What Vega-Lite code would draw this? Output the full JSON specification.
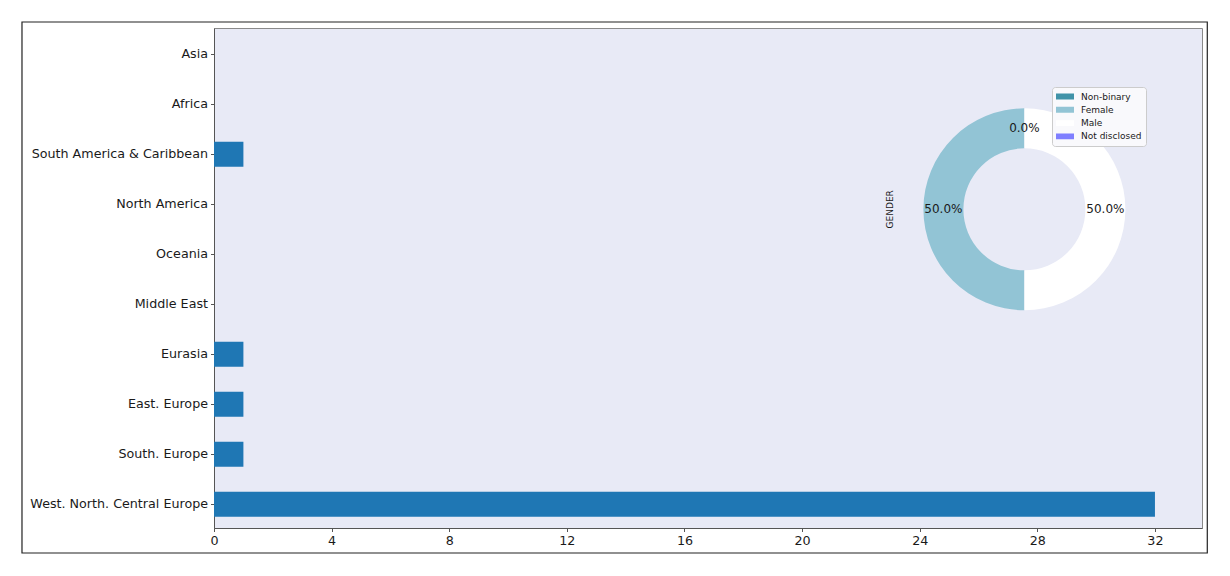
{
  "$schema": "https://vega.github.io/schema/vega-lite/v6.json",
  "width": 988,
  "height": 500,
  "autosize": "none",
  "padding": {"left": 214, "top": 28, "right": 28, "bottom": 48},
  "background": "white",
  "config": {
    "font": "DejaVu Sans",
    "view": {"fill": "#e8eaf6", "stroke": "#8a8a8a", "strokeWidth": 1},
    "axis": {
      "domainColor": "#555555",
      "tickColor": "#555555",
      "tickSize": 3.5,
      "labelColor": "#1a1a1a",
      "labelFontSize": 12.7,
      "grid": false,
      "title": null
    }
  },
  "datasets": {
    "regions": [
      {"region": "Asia", "count": 0},
      {"region": "Africa", "count": 0},
      {"region": "South America & Caribbean", "count": 1},
      {"region": "North America", "count": 0},
      {"region": "Oceania", "count": 0},
      {"region": "Middle East", "count": 0},
      {"region": "Eurasia", "count": 1},
      {"region": "East. Europe", "count": 1},
      {"region": "South. Europe", "count": 1},
      {"region": "West. North. Central Europe", "count": 32}
    ],
    "gender": [
      {"gender": "Non-binary", "share": 0, "rank": 1},
      {"gender": "Female", "share": 0.5, "rank": 2},
      {"gender": "Male", "share": 0.5, "rank": 3},
      {"gender": "Not disclosed", "share": 0, "rank": 4}
    ]
  },
  "layer": [
    {
      "data": {"name": "regions"},
      "mark": {"type": "bar", "color": "#1f77b4"},
      "encoding": {
        "x": {
          "field": "count",
          "type": "quantitative",
          "scale": {"domain": [0, 33.6], "nice": false, "zero": false},
          "axis": {"title": null, "values": [0, 4, 8, 12, 16, 20, 24, 28, 32], "labelPadding": 3, "labelFlush": false}
        },
        "y": {
          "field": "region",
          "type": "nominal",
          "sort": null,
          "scale": {"paddingInner": 0.5, "paddingOuter": 0.25, "align": 0.55},
          "axis": {"labelPadding": 3, "labelLimit": 400, "title": null}
        }
      }
    },
    {
      "description": "outer figure frame",
      "data": {"values": [{}]},
      "mark": {"type": "rect", "filled": false, "stroke": "#222222", "strokeWidth": 1.2, "clip": false},
      "encoding": {
        "x": {"datum": -6.53, "type": "quantitative", "scale": {"domain": [0, 33.6], "nice": false, "zero": false}, "axis": {"title": null, "values": [0, 4, 8, 12, 16, 20, 24, 28, 32], "labelPadding": 3, "labelFlush": false}},
        "x2": {"datum": 33.78},
        "y": {"datum": 1.012, "type": "quantitative", "scale": {"domain": [0, 1], "nice": false, "zero": false}, "axis": null},
        "y2": {"datum": -0.05}
      }
    },
    {
      "data": {"name": "gender"},
      "mark": {"type": "arc", "innerRadius": 61, "outerRadius": 101},
      "encoding": {
        "theta": {"field": "share", "type": "quantitative", "stack": true},
        "order": {"field": "rank", "sort": "descending"},
        "color": {
          "field": "gender",
          "type": "nominal",
          "scale": {
            "domain": ["Non-binary", "Female", "Male", "Not disclosed"],
            "range": ["#4193a8", "#92c4d5", "#ffffff", "#7f7fff"]
          },
          "legend": {
            "orient": "none",
            "legendX": 838,
            "legendY": 59,
            "title": null,
            "symbolType": "M-1,-0.33H1V0.33H-1Z",
            "symbolSize": 324,
            "symbolStrokeWidth": 0,
            "symbolOpacity": 1,
            "labelFontSize": 9,
            "labelColor": "#1a1a1a",
            "labelOffset": 7,
            "clipHeight": 11,
            "rowPadding": 2.3,
            "padding": 4,
            "fillColor": "#f9f9fc",
            "strokeColor": "#cccccc",
            "cornerRadius": 3
          }
        },
        "x": {"datum": 27.56, "type": "quantitative", "scale": {"domain": [0, 33.6], "nice": false, "zero": false}, "axis": {"title": null, "values": [0, 4, 8, 12, 16, 20, 24, 28, 32], "labelPadding": 3, "labelFlush": false}},
        "y": {"datum": 0.6374, "type": "quantitative", "scale": {"domain": [0, 1], "nice": false, "zero": false}, "axis": null}
      }
    },
    {
      "description": "percentage labels; the two empty wedges share one spot at 12 o'clock, so one label is drawn there",
      "data": {"name": "gender"},
      "transform": [{"filter": "datum.rank < 4"}],
      "mark": {"type": "text", "radius": 81, "fontSize": 12, "color": "#1a1a1a"},
      "encoding": {
        "theta": {"field": "share", "type": "quantitative", "stack": true},
        "order": {"field": "rank", "sort": "descending"},
        "text": {"field": "share", "type": "quantitative", "format": ".1%"},
        "x": {"datum": 27.56, "type": "quantitative", "scale": {"domain": [0, 33.6], "nice": false, "zero": false}, "axis": {"title": null, "values": [0, 4, 8, 12, 16, 20, 24, 28, 32], "labelPadding": 3, "labelFlush": false}},
        "y": {"datum": 0.6374, "type": "quantitative", "scale": {"domain": [0, 1], "nice": false, "zero": false}, "axis": null}
      }
    },
    {
      "data": {"values": [{"label": "GENDER"}]},
      "mark": {"type": "text", "angle": 270, "fontSize": 9, "color": "#1a1a1a"},
      "encoding": {
        "text": {"field": "label"},
        "x": {"datum": 22.99, "type": "quantitative", "scale": {"domain": [0, 33.6], "nice": false, "zero": false}, "axis": {"title": null, "values": [0, 4, 8, 12, 16, 20, 24, 28, 32], "labelPadding": 3, "labelFlush": false}},
        "y": {"datum": 0.6374, "type": "quantitative", "scale": {"domain": [0, 1], "nice": false, "zero": false}, "axis": null}
      }
    }
  ],
  "resolve": {"scale": {"y": "independent"}}
}
